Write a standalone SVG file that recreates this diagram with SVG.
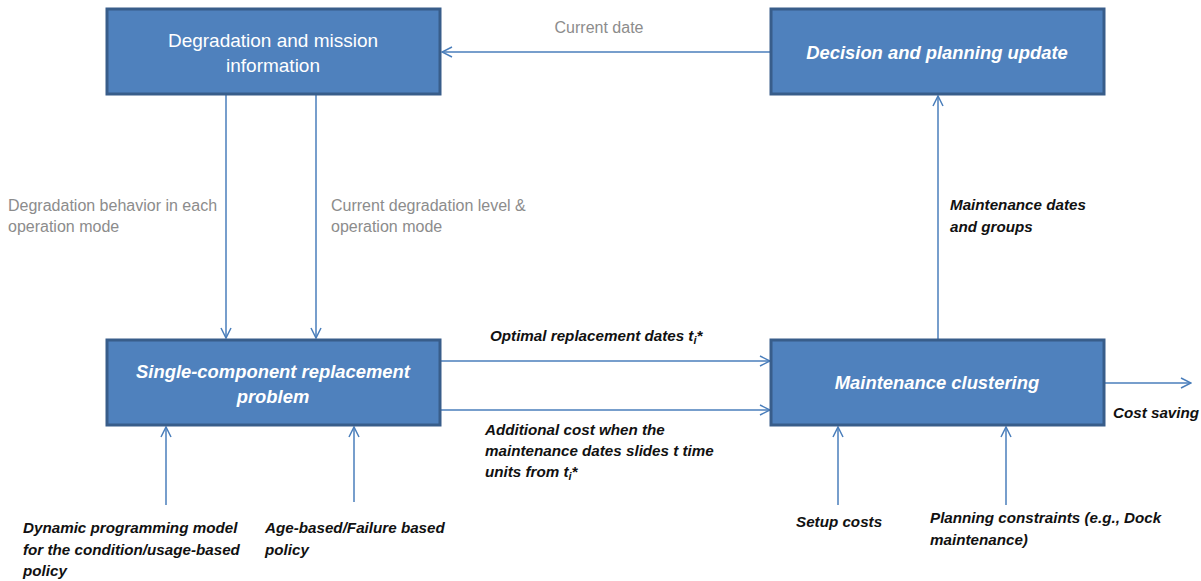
<svg xmlns="http://www.w3.org/2000/svg" width="1201" height="581" viewBox="0 0 1201 581">
<style>
.box{fill:#4F81BD;stroke:#385D8A;stroke-width:3}
.wt{fill:#fff;font-family:"Liberation Sans",Arial,sans-serif;font-size:19px;text-anchor:middle}
.wbi{fill:#fff;font-family:"Liberation Sans",Arial,sans-serif;font-size:18.4px;font-weight:bold;font-style:italic;text-anchor:middle}
.gt{fill:#8C8C8C;font-family:"Liberation Sans",Arial,sans-serif;font-size:16px}
.bt{fill:#111;font-family:"Liberation Sans",Arial,sans-serif;font-size:15.2px;font-weight:bold;font-style:italic}
.ln{stroke:#4A7EBB;stroke-width:1.5;fill:none;marker-end:url(#ah)}
</style>
<defs>
<marker id="ah" viewBox="0 0 12 12" refX="11" refY="6" markerWidth="12" markerHeight="12" markerUnits="userSpaceOnUse" orient="auto">
<path d="M1,1 L11,6 L1,11" fill="none" stroke="#4A7EBB" stroke-width="1.5"/>
</marker>
</defs>
<rect width="1201" height="581" fill="#fff"/>
<g id="connectors">
<line class="ln" x1="771" y1="52" x2="442" y2="52"/>
<line class="ln" x1="226" y1="95" x2="226" y2="338"/>
<line class="ln" x1="316" y1="95" x2="316" y2="338"/>
<line class="ln" x1="938" y1="339" x2="938" y2="96"/>
<line class="ln" x1="440" y1="361" x2="770" y2="361"/>
<line class="ln" x1="440" y1="410" x2="770" y2="410"/>
<line class="ln" x1="1104" y1="383" x2="1191" y2="383"/>
<line class="ln" x1="166" y1="505" x2="166" y2="427"/>
<line class="ln" x1="354" y1="502" x2="354" y2="427"/>
<line class="ln" x1="838" y1="505" x2="838" y2="427"/>
<line class="ln" x1="1006" y1="505" x2="1006" y2="427"/>
</g>
<g id="n-degradation">
<rect class="box" x="107" y="9" width="333" height="85"/>
<text class="wt" x="273" y="47">Degradation and mission</text>
<text class="wt" x="273" y="72">information</text>
</g>
<g id="n-decision">
<rect class="box" x="771" y="9" width="333" height="85"/>
<text class="wbi" x="937" y="59">Decision and planning update</text>
</g>
<g id="n-single">
<rect class="box" x="107" y="340" width="333" height="85"/>
<text class="wbi" x="273" y="378">Single-component replacement</text>
<text class="wbi" x="273" y="403">problem</text>
</g>
<g id="n-clustering">
<rect class="box" x="771" y="340" width="333" height="85"/>
<text class="wbi" x="937" y="389">Maintenance clustering</text>
</g>
<g id="labels">
<text class="gt" x="599" y="33" text-anchor="middle">Current date</text>
<text class="gt" x="8" y="211">Degradation behavior in each</text>
<text class="gt" x="8" y="232">operation mode</text>
<text class="gt" x="331" y="211">Current degradation level &amp;</text>
<text class="gt" x="331" y="232">operation mode</text>
<text class="bt" x="950" y="210">Maintenance dates</text>
<text class="bt" x="950" y="232">and groups</text>
<text class="bt" x="490" y="341">Optimal replacement dates t<tspan font-size="11" dy="3">i</tspan><tspan dy="-3">*</tspan></text>
<text class="bt" x="485" y="435">Additional cost when the</text>
<text class="bt" x="485" y="456">maintenance dates slides t time</text>
<text class="bt" x="485" y="477">units from t<tspan font-size="11" dy="3">i</tspan><tspan dy="-3">*</tspan></text>
<text class="bt" x="1113" y="418">Cost saving</text>
<text class="bt" x="23" y="533">Dynamic programming model</text>
<text class="bt" x="23" y="555">for the condition/usage-based</text>
<text class="bt" x="23" y="576">policy</text>
<text class="bt" x="265" y="533">Age-based/Failure based</text>
<text class="bt" x="265" y="555">policy</text>
<text class="bt" x="796" y="527">Setup costs</text>
<text class="bt" x="930" y="523">Planning constraints (e.g., Dock</text>
<text class="bt" x="930" y="545">maintenance)</text>
</g>
</svg>
